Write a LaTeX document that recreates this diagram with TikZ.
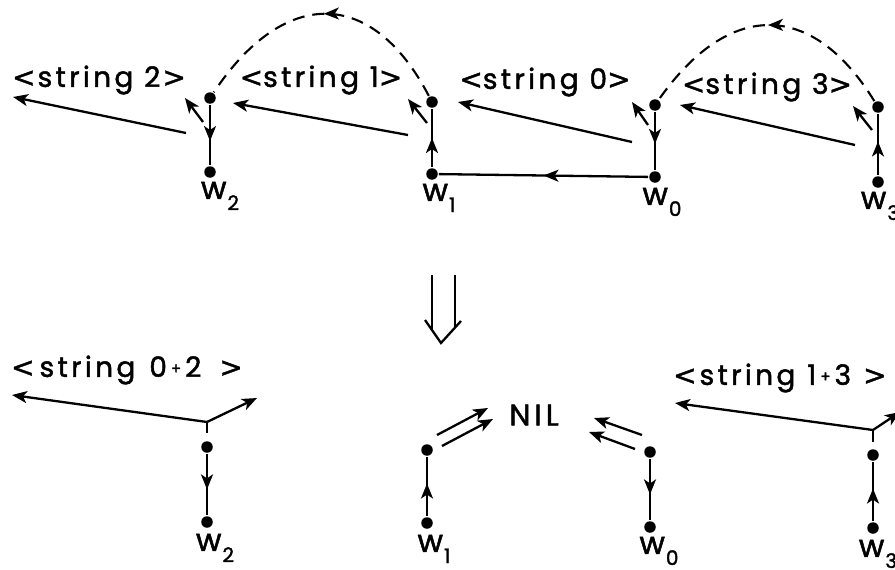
\documentclass[tikz,border=0pt]{standalone}
\usepackage{fontspec}
\setmainfont{Poppins}[LetterSpace=12,FakeBold=1.6]
\newfontfamily\brkfont{DejaVu Sans}[FakeBold=1.2]
\usetikzlibrary{arrows.meta,decorations.markings}

% w with a lowered index
\newcommand\wlab[1]{w\kern1pt\raisebox{-0.65ex}{\fontsize{20}{20}\selectfont #1}}
% small raised plus used in the merged string labels
\newcommand\splus{\hspace{4pt}\raisebox{0.2ex}{\fontsize{15}{15}\selectfont +}\hspace{4pt}}
% angle brackets around the string names
\newcommand\lbr{{\brkfont <}}
\newcommand\rbr{{\brkfont >}}

\begin{document}
\begin{tikzpicture}[x=1pt,y=-1pt,
  line width=2.3pt,
  tip/.style={-{Stealth[length=15pt,width=12pt,inset=4pt]}},
  dot/.style={circle,fill,inner sep=0pt,minimum size=11.5pt},
  lbl/.style={font=\fontsize{28}{30}\selectfont,inner sep=0pt},
  wl/.style={font=\fontsize{31}{32}\selectfont,inner sep=0pt},
  midarrow/.style={postaction={decorate,solid},decoration={markings,
      mark=at position #1 with {\arrow{Stealth[length=15pt,width=12pt,inset=4pt]}}}},
  arcline/.style={dash pattern=on 12pt off 8pt,line width=2.1pt}
]
\useasboundingbox (0,0) rectangle (895,570);
\clip (0,0) rectangle (895,570);

% ---------------- upper configuration ----------------
\node[dot] (w2b) at (210,172) {};
\node[dot] (w2t) at (210,98) {};
\node[dot] (w1b) at (432,174) {};
\node[dot] (w1t) at (432,102) {};
\node[dot] (w0b) at (655,177) {};
\node[dot] (w0t) at (655,105) {};
\node[dot] (w3b) at (878,182) {};
\node[dot] (w3t) at (878,107) {};

\node[wl] (n2) at (220,196) {\wlab{2}};
\node[wl] (n1) at (439,198) {\wlab{1}};
\node[wl] (n0) at (662,202) {\wlab{0}};
\node[wl] (n3) at (880,206) {\wlab{3}};

\draw[midarrow=0.6] (w2t) -- (w2b);
\draw[midarrow=0.5] (w1b) -- (w1t);
\draw[midarrow=0.55] (w0t) -- (w0b);
\draw[midarrow=0.55] (w3b) -- (w3t);
\draw[midarrow=0.5] (w0b) -- (w1b);

% dashed links between the upper ends
\draw[arcline,midarrow=0.5] (w1t) .. controls (372,-13) and (284,-13) .. (w2t);
\draw[arcline,midarrow=0.5] (w3t) .. controls (812,0) and (729,0) .. (w0t);

% string labels
\node[lbl] (l2) at (99,80) {\lbr\hspace{2pt}string 2\hspace{2pt}\rbr};
\node[lbl] (l1) at (321,80) {\lbr string 1\rbr};
\node[lbl] (l0) at (545,82) {\lbr string 0\rbr};
\node[lbl] (l3) at (767,87) {\lbr string 3\rbr};

% string pointers
\coordinate (s2a) at (186,133); \coordinate (s2b) at (13,97);
\coordinate (s1a) at (408,135); \coordinate (s1b) at (233,103);
\coordinate (s0a) at (632,142); \coordinate (s0b) at (458,102);
\coordinate (s3a) at (855,145); \coordinate (s3b) at (680,105);
\draw[tip] (s2a) -- (s2b);
\draw[tip] (s1a) -- (s1b);
\draw[tip] (s0a) -- (s0b);
\draw[tip] (s3a) -- (s3b);

% short pointers beside the upper ends
\coordinate (p2a) at (203,122); \coordinate (p2b) at (185,98);
\coordinate (p1a) at (427,123); \coordinate (p1b) at (408,99);
\coordinate (p0a) at (648,125); \coordinate (p0b) at (632,102);
\coordinate (p3a) at (872,130); \coordinate (p3b) at (853,106);
\draw[tip] (p2a) -- (p2b);
\draw[tip] (p1a) -- (p1b);
\draw[tip] (p0a) -- (p0b);
\draw[tip] (p3a) -- (p3b);

% ---------------- transition arrow ----------------
\coordinate (da1) at (432,275); \coordinate (da2) at (432,330);
\coordinate (db1) at (455,275); \coordinate (db2) at (455,328);
\coordinate (vl) at (425,320); \coordinate (vt) at (441,343); \coordinate (vr) at (461,321);
\draw (da1) -- (da2);
\draw (db1) -- (db2);
\draw[line join=miter] (vl) -- (vt) -- (vr);

% ---------------- lower configuration ----------------
\node[dot] (v2t) at (207,447) {};
\node[dot] (v2b) at (207,522) {};
\node[dot] (v1t) at (427,450) {};
\node[dot] (v1b) at (427,523) {};
\node[dot] (v0t) at (650,452) {};
\node[dot] (v0b) at (650,527) {};
\node[dot] (v3t) at (873,455) {};
\node[dot] (v3b) at (873,528) {};

\node[wl] (m2) at (215,548) {\wlab{2}};
\node[wl] (m1) at (434,549) {\wlab{1}};
\node[wl] (m0) at (659,551) {\wlab{0}};
\node[wl] (m3) at (878,554) {\wlab{3}};

\draw[midarrow=0.58] (v2t) -- (v2b);
\draw[midarrow=0.55] (v1b) -- (v1t);
\draw[midarrow=0.58] (v0t) -- (v0b);
\draw[midarrow=0.55] (v3b) -- (v3t);

% merged string 0+2
\coordinate (j2) at (207,422); \coordinate (k2) at (207,433);
\coordinate (e2l) at (12,395); \coordinate (e2r) at (257,398);
\draw (j2) -- (k2);
\draw[tip] (j2) -- (e2l);
\draw[tip] (j2) -- (e2r);
\node[lbl,anchor=west] (l02) at (10,370) {\lbr\hspace{5pt}string\hspace{14pt}0\splus 2\hspace{18pt}\rbr};

% merged string 1+3
\coordinate (j3) at (873,430); \coordinate (k3) at (873,442);
\coordinate (e3l) at (675,403); \coordinate (e3r) at (900,412);
\draw (j3) -- (k3);
\draw[tip] (j3) -- (e3l);
\draw[tip] (j3) -- (e3r);
\node[lbl,anchor=west] (l13) at (672,378) {\lbr\hspace{3pt}string\hspace{12pt}1\splus 3\hspace{12pt}\rbr};

% NIL and the pointers into it
\node[font=\fontsize{30}{32}\selectfont,inner sep=0pt] (nil) at (534,415) {N\kern4pt I\kern4pt L};
\coordinate (a1) at (437,435); \coordinate (b1) at (488,408);
\coordinate (a2) at (442,446); \coordinate (b2) at (493,419);
\coordinate (a3) at (642,435); \coordinate (b3) at (594,418);
\coordinate (a4) at (635,449); \coordinate (b4) at (589,432);
\draw[tip] (a1) -- (b1);
\draw[tip] (a2) -- (b2);
\draw[tip] (a3) -- (b3);
\draw[tip] (a4) -- (b4);
\end{tikzpicture}
\end{document}
